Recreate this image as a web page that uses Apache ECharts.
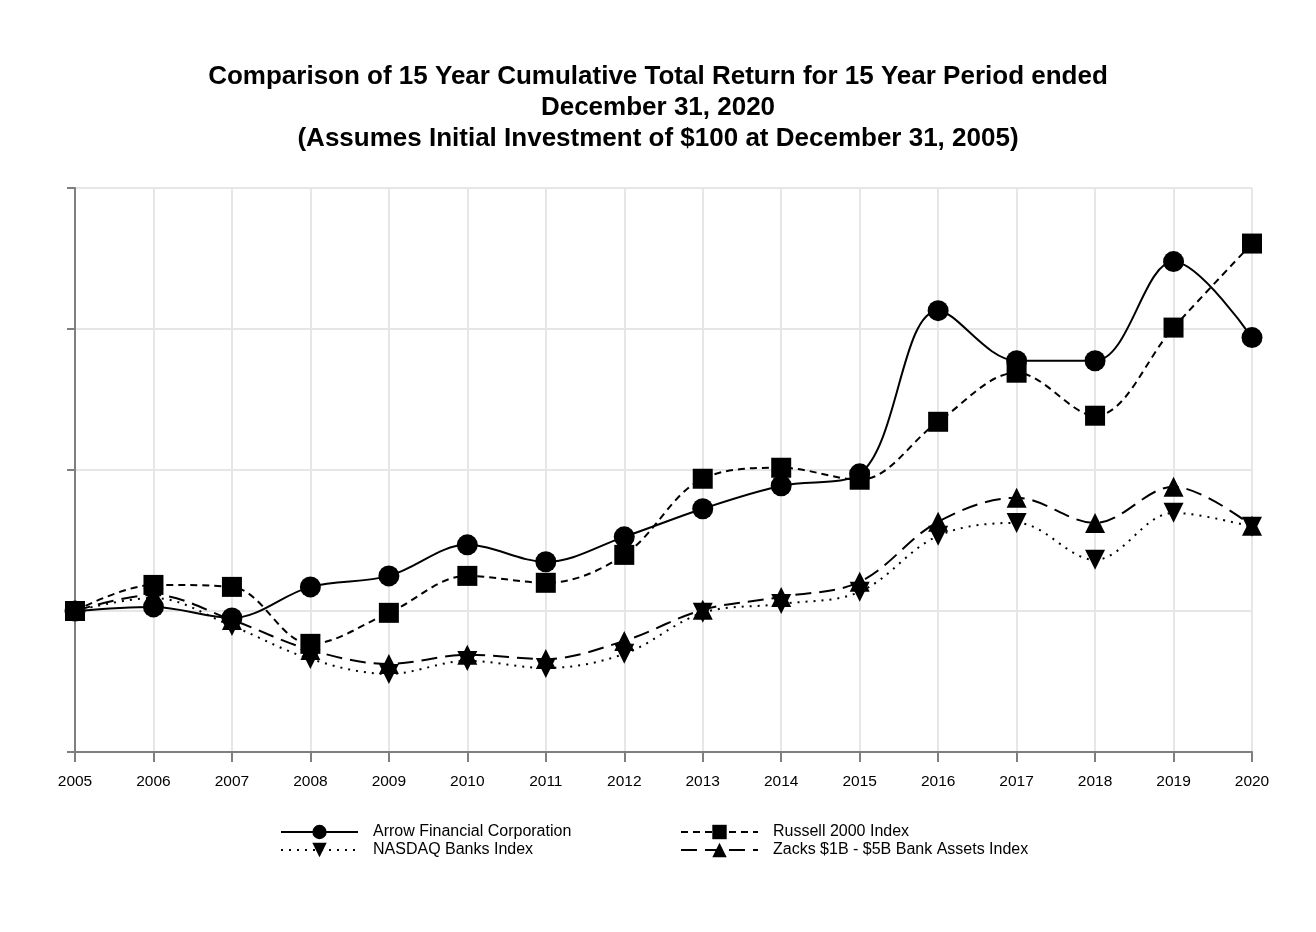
<!DOCTYPE html>
<html><head><meta charset="utf-8">
<script src="https://cdn.jsdelivr.net/npm/echarts@6/dist/echarts.min.js"></script>
<style>html,body{margin:0;padding:0;background:#fff}#c{width:1316px;height:932px}</style>
</head><body><div id="c"></div>
<script>
const years = ['2005','2006','2007','2008','2009','2010','2011','2012','2013','2014','2015','2016','2017','2018','2019','2020'];
const arrow   = [100,102.9,95.1,117.1,124.9,146.9,134.9,152.6,172.5,188.8,197.3,313.0,277.5,277.5,347.8,293.9];
const russell = [100,118.5,117.1,76.7,98.7,124.9,120.0,139.8,193.8,201.6,193.1,234.2,269.0,238.5,301.0,360.6];
const nasdaq  = [100,109.3,89.4,66.0,55.4,64.6,59.6,69.6,98.7,105.0,113.6,153.3,162.5,136.3,169.6,159.7];
const zacks   = [100,111.4,93.7,72.4,62.5,68.9,66.0,78.8,100.8,110.0,120.7,163.3,180.3,162.5,188.1,160.4];
const names = ['Arrow Financial Corporation','Russell 2000 Index','NASDAQ Banks Index','Zacks $1B - $5B Bank Assets Index'];

const chart = echarts.init(document.getElementById('c'));
const F = 'Liberation Sans, Arial, sans-serif';
function mk(name, data, symbol, dash, size){
  return {name, type:'line', data, smooth:0.35, symbol, symbolSize:size,
    lineStyle:{color:'#000', width:2, type:dash}, itemStyle:{color:'#000'}, z:3};
}
const legBase = {orient:'vertical', top:824, itemWidth:77, itemHeight:18, itemGap:2, padding:0,
  textStyle:{fontFamily:F, fontSize:16, color:'#000', padding:[0,0,0,10]}};
chart.setOption({
  animation:false,
  title:{text:'Comparison of 15 Year Cumulative Total Return for 15 Year Period ended\nDecember 31, 2020\n(Assumes Initial Investment of $100 at December 31, 2005)',
    left:'center', top:56, textStyle:{fontFamily:F, fontSize:26, fontWeight:'bold', lineHeight:31, color:'#000'}},
  legend:[
    Object.assign({data:[names[0],names[2]], left:280}, legBase),
    Object.assign({data:[names[1],names[3]], left:680}, legBase)
  ],
  grid:{left:75, right:64, top:188, bottom:180},
  xAxis:{type:'category', data:years, boundaryGap:false,
    axisLine:{lineStyle:{color:'#7f7f7f', width:2}},
    axisTick:{show:true, length:10, lineStyle:{color:'#7f7f7f', width:2}},
    axisLabel:{fontFamily:F, fontSize:15.5, color:'#000', margin:22},
    splitLine:{show:true, lineStyle:{color:'#e6e6e6', width:2}}},
  yAxis:{type:'value', min:0, max:400, interval:100,
    axisLine:{show:true, lineStyle:{color:'#7f7f7f', width:2}},
    axisTick:{show:true, length:8, lineStyle:{color:'#7f7f7f', width:2}},
    axisLabel:{show:false},
    splitLine:{show:true, lineStyle:{color:'#e6e6e6', width:2}}},
  series:[
    mk(names[0], arrow, 'circle', 'solid', 21),
    mk(names[1], russell, 'rect', [7,5], 20),
    mk(names[2], nasdaq, 'path://M0,0 L20,0 L10,20 Z', [2,6], 20),
    mk(names[3], zacks, 'triangle', [16,8], 20)
  ]
});
</script></body></html>
